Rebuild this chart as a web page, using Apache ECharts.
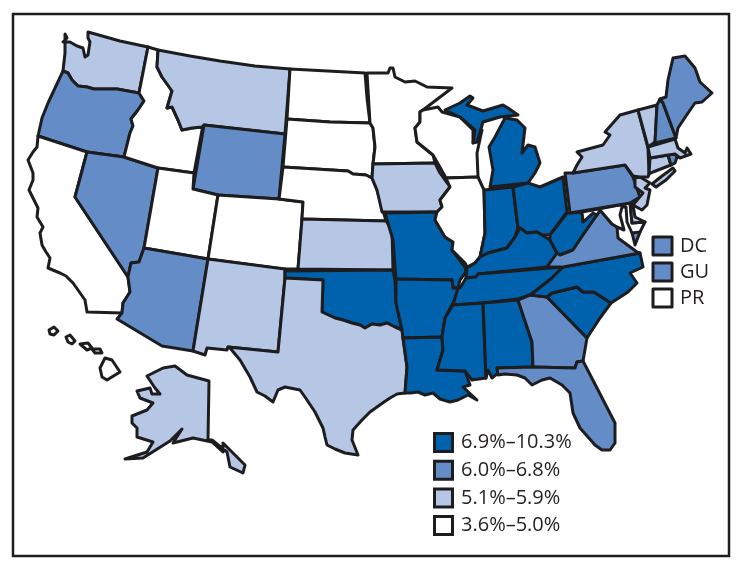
<!DOCTYPE html>
<html><head><meta charset="utf-8">
<style>html,body{margin:0;padding:0;background:#fff}#c{width:742px;height:571px}</style>
<script src="https://cdn.jsdelivr.net/npm/echarts@6/dist/echarts.min.js"></script>
</head><body><div id="c"></div>
<script>
const bandLabels = ['6.9%–10.3%','6.0%–6.8%','5.1%–5.9%','3.6%–5.0%'];
const bandColors = ['#0061ad','#648dc8','#b6c7e6','#ffffff'];
const band0States = ['MO','OK','AR','LA','MS','AL','TN','KY','IN','OH','MI','WV','NC','SC'];
const band1States = ['OR','NV','WY','AZ','GA','FL','VA','PA','ME','NH','RI','DC','GU'];
const band2States = ['WA','MT','KS','IA','NM','TX','NY','VT','MA','CT','NJ','DE','AK'];
const band3States = ['CA','ID','UT','CO','ND','SD','NE','MN','WI','IL','MD','HI','PR'];
const bandStates = [band0States, band1States, band2States, band3States];
const keyLabels = ['DC','GU','PR'];

// Map outlines (a hand-traced base map of the US, registered with echarts.registerMap)
const shapes = {
 WA:[[[65,34],[67,38],[63,42],[70,42],[77,46],[83,48],[85,57],[88,55],[89,48],[90,42],[88,38],[88,32],[120,41],[148,47],[139,93],[117,89],[94,89],[87,87],[78,86],[72,80],[68,73],[63,71],[65,53]]],
 OR:[[[63,71],[68,73],[72,80],[78,86],[87,87],[94,89],[117,89],[139,93],[144,101],[138,110],[131,119],[133,126],[130,133],[124,157],[87,152],[38,136],[42,118],[48,103]]],
 CA:[[[38,136],[87,152],[75,197],[128,277],[130,292],[123,303],[122,313],[87,312],[85,300],[78,290],[73,283],[66,276],[60,273],[48,268],[50,258],[46,252],[42,245],[40,233],[43,227],[37,217],[38,208],[33,198],[29,190],[33,180],[33,173],[28,160],[33,152],[37,147]]],
 NV:[[[87,152],[124,157],[158,168],[144,248],[139,262],[131,263],[128,277],[75,197]]],
 ID:[[[148,47],[158,50],[157,67],[162,77],[172,91],[167,108],[172,107],[178,120],[182,130],[192,128],[202,127],[203,125],[194,173],[158,168],[124,157],[130,133],[133,126],[131,119],[138,110],[144,101],[139,93]]],
 MT:[[[158,50],[190,56],[220,61],[255,66],[290,69],[285,134],[204,125],[202,127],[192,128],[182,130],[178,120],[172,107],[167,108],[172,91],[162,77],[157,67]]],
 WY:[[[204,125],[285,134],[279,199],[218,195],[193,189]]],
 UT:[[[158,168],[194,173],[193,189],[218,195],[208,259],[144,248]]],
 CO:[[[218,195],[279,199],[303,202],[302,219],[298,269],[283,269],[208,259]]],
 AZ:[[[144,248],[208,259],[193,351],[162,346],[117,319],[122,313],[123,303],[130,292],[128,277],[131,263],[139,262]]],
 NM:[[[208,259],[285,269],[285,278],[278,352],[228,347],[227,350],[207,348],[205,355],[193,351]]],
 ND:[[[290,69],[365,73],[367,98],[370,123],[330,122],[287,119]]],
 SD:[[[287,119],[330,122],[370,123],[373,128],[375,147],[373,164],[372,178],[366,175],[353,174],[348,171],[283,167]]],
 NE:[[[283,167],[348,171],[353,174],[366,175],[372,178],[377,190],[382,207],[386,221],[302,219],[303,202],[279,199]]],
 KS:[[[302,219],[386,221],[392,230],[393,270],[298,269]]],
 OK:[[[285,271],[393,270],[395,280],[396,303],[402,330],[395,327],[387,323],[380,325],[372,324],[365,328],[360,325],[352,323],[343,320],[335,318],[322,312],[323,280],[285,278]]],
 TX:[[[285,278],[323,280],[322,312],[335,318],[343,320],[352,323],[360,325],[365,328],[372,324],[380,325],[387,323],[395,327],[402,330],[403,338],[407,367],[405,393],[397,394],[390,398],[384,402],[370,412],[362,420],[353,430],[352,440],[358,455],[345,453],[335,449],[327,445],[325,437],[323,428],[315,412],[305,397],[300,390],[285,387],[278,390],[273,402],[265,396],[257,392],[250,377],[240,360],[230,348],[228,347],[278,352]]],
 MN:[[[367,73],[388,73],[390,68],[393,68],[395,77],[405,82],[415,81],[427,87],[452,88],[423,110],[420,112],[420,122],[415,128],[417,142],[433,155],[435,163],[373,164],[375,147],[373,128],[370,123]]],
 IA:[[[373,164],[435,163],[440,173],[450,187],[440,200],[442,207],[437,212],[382,212],[377,190],[372,178]]],
 MO:[[[385,213],[437,212],[435,220],[445,237],[453,242],[452,250],[465,267],[466,272],[460,280],[458,288],[453,288],[452,280],[396,279],[393,240],[390,230]]],
 AR:[[[396,279],[452,280],[453,288],[460,288],[453,303],[445,318],[442,337],[403,338],[402,330],[396,303]]],
 LA:[[[403,338],[442,337],[443,350],[437,370],[465,371],[470,385],[463,387],[477,400],[468,395],[458,400],[450,402],[440,399],[433,393],[425,395],[418,392],[410,393],[405,393],[407,367]]],
 WI:[[[423,110],[438,107],[442,112],[460,117],[473,130],[473,143],[482,130],[477,153],[478,177],[446,178],[437,162],[433,155],[417,142],[415,128],[420,122],[420,112]]],
 IL:[[[446,178],[478,177],[484,190],[485,233],[480,257],[475,263],[467,267],[465,263],[452,250],[453,242],[445,237],[435,220],[437,212],[442,207],[440,200],[450,187]]],
 IN:[[[484,190],[513,187],[518,228],[515,237],[507,248],[488,253],[480,257],[485,233]]],
 MI:[[[490,187],[528,183],[535,173],[540,163],[535,147],[528,145],[522,153],[525,128],[517,120],[505,118],[495,137],[489,147],[493,170]],
     [[445,110],[460,103],[470,96],[473,98],[467,105],[483,111],[503,105],[508,108],[518,115],[500,117],[483,122],[477,142],[473,143],[475,130],[460,117]]],
 OH:[[[513,187],[528,183],[540,187],[563,177],[567,212],[550,235],[542,235],[537,232],[527,233],[520,228],[518,228]]],
 KY:[[[467,268],[475,263],[480,257],[488,253],[507,248],[515,237],[520,228],[527,233],[537,232],[542,235],[550,240],[557,253],[547,267],[478,274],[476,277],[466,278]]],
 TN:[[[466,278],[476,277],[478,274],[563,267],[552,278],[533,293],[530,295],[518,299],[483,303],[453,305],[458,288],[460,288]]],
 MS:[[[453,305],[483,303],[486,378],[472,380],[465,371],[437,370],[443,350],[442,337],[445,318]]],
 AL:[[[483,303],[518,300],[532,342],[533,367],[497,368],[498,373],[492,378],[488,370],[486,378]]],
 GA:[[[518,300],[530,295],[547,297],[587,338],[583,361],[577,362],[575,368],[533,367],[532,342]]],
 FL:[[[497,368],[533,367],[575,368],[577,362],[583,361],[598,390],[615,423],[615,443],[610,450],[602,450],[595,445],[588,437],[580,428],[573,413],[570,393],[562,385],[550,378],[542,380],[532,385],[525,378],[517,375],[505,374],[498,375]]],
 SC:[[[547,297],[552,293],[577,287],[583,292],[594,292],[611,303],[600,318],[587,338]]],
 NC:[[[563,267],[640,253],[643,267],[630,273],[637,283],[628,292],[611,303],[594,292],[583,292],[577,287],[552,293],[547,297],[530,295],[533,293],[552,278]]],
 WV:[[[567,213],[570,213],[582,212],[583,222],[593,213],[597,215],[583,235],[573,250],[560,255],[557,253],[550,240],[550,235]]],
 VA:[[[547,267],[557,253],[560,255],[573,250],[583,235],[597,215],[600,210],[612,224],[617,227],[618,238],[637,252],[640,253],[563,267]],
     [[632,233],[640,232],[635,245]]],
 MD:[[[582,212],[630,203],[632,223],[645,222],[640,232],[632,233],[627,222],[626,207],[622,207],[620,215],[624,230],[617,227],[612,224],[600,210],[597,215],[593,213],[583,222]]],
 DE:[[[630,202],[633,205],[635,217],[645,222],[632,223]]],
 PA:[[[565,173],[573,173],[625,165],[633,177],[635,183],[640,197],[630,203],[570,213]]],
 NJ:[[[635,178],[640,177],[650,183],[645,188],[650,190],[647,205],[642,210],[633,205],[643,193],[635,187]]],
 NY:[[[573,173],[577,165],[582,157],[577,152],[603,145],[610,135],[605,132],[620,115],[638,110],[648,148],[649,174],[648,177],[640,177],[633,176],[625,165]],
     [[652,184],[662,176],[673,168],[675,171],[666,180],[656,187]]],
 CT:[[[650,158],[668,155],[671,165],[653,172],[649,174]]],
 RI:[[[668,155],[675,154],[677,157],[675,163],[671,165]]],
 MA:[[[648,147],[675,139],[678,148],[685,153],[687,148],[691,154],[680,158],[675,154],[668,155],[650,158]]],
 VT:[[[638,110],[657,105],[655,142],[648,147]]],
 NH:[[[657,105],[660,99],[663,103],[676,138],[655,143]]],
 ME:[[[660,99],[666,97],[668,80],[673,58],[685,56],[695,68],[700,82],[712,93],[702,102],[695,103],[688,113],[678,128],[676,138],[663,103]]],
 AK:[[[175,366],[163,368],[147,376],[155,388],[160,394],[152,394],[150,388],[137,391],[140,398],[153,403],[147,410],[132,416],[132,423],[137,428],[137,437],[153,442],[147,452],[125,459],[143,458],[170,441],[182,429],[173,443],[193,438],[212,442],[223,452],[223,443],[245,465],[243,473],[230,467],[227,452],[212,440],[208,440],[209,381],[187,375]]],
 HI:[[[100,368],[105,358],[112,360],[120,372],[107,380],[102,377]],
     [[49,330],[54,327],[58,331],[54,335],[50,334]],
     [[66,337],[70,335],[75,341],[72,344],[68,342]],
     [[80,344],[88,343],[92,348],[87,350]],
     [[92,349],[100,349],[102,353],[95,353]]],
 DC:[[[653,237],[672,237],[672,255],[653,255]]],
 GU:[[[653,263],[672,263],[672,281],[653,281]]],
 PR:[[[653,289],[672,289],[672,307],[653,307]]]
};

const features = Object.keys(shapes).map(name => ({
  type:'Feature', properties:{name},
  geometry:{type:'MultiPolygon', coordinates:shapes[name].map(r=>[r.concat([r[0]])])}
}));
echarts.registerMap('us',{type:'FeatureCollection',features});

const data=[];
bandStates.forEach((list,i)=>list.forEach(name=>data.push({name,value:i})));

const ink='#1d1d20';
const legendBoxes=bandLabels.map((t,i)=>({type:'rect',shape:{x:434.5,y:433.5+i*27.7,width:18,height:18},
  style:{fill:bandColors[i],stroke:ink,lineWidth:3}}));
const legendTexts=bandLabels.map((t,i)=>({type:'text',x:461,y:442.5+i*27.7,
  style:{text:t,font:'20px "Open Sans"',fill:'#231f20',verticalAlign:'middle',textAlign:'left'}}));
const keyTexts=keyLabels.map((t,i)=>({type:'text',x:680,y:246+i*26,
  style:{text:t,font:'20px "Open Sans"',fill:'#231f20',verticalAlign:'middle',textAlign:'left'}}));

const chart=echarts.init(document.getElementById('c'),null,{renderer:'canvas'});
chart.setOption({
  animation:false,
  backgroundColor:'#fff',
  graphic:[{type:'rect',shape:{x:13,y:14,width:716,height:542},style:{fill:'none',stroke:ink,lineWidth:2.5},silent:true},
    ...legendBoxes,...legendTexts,...keyTexts],
  visualMap:{show:false,type:'piecewise',dimension:0,seriesIndex:0,
    pieces:bandColors.map((color,i)=>({value:i,color}))},
  geo:{map:'us',silent:true,left:0,top:0,width:742,height:571,
    projection:{project:p=>p,unproject:p=>p},
    boundingCoords:[[0,0],[742,571]],
    itemStyle:{areaColor:'#fff',borderColor:ink,borderWidth:3,borderJoin:'round'},
    emphasis:{disabled:true},label:{show:false}},
  series:[{type:'map',geoIndex:0,data,silent:true,label:{show:false}}]
});
</script></body></html>
